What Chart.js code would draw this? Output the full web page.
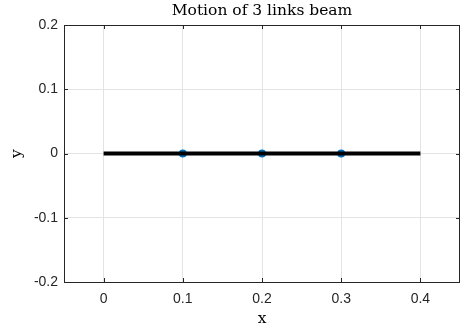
<!DOCTYPE html>
<html>
<head>
<meta charset="utf-8">
<script src="https://cdn.jsdelivr.net/npm/chart.js@4/dist/chart.umd.min.js"></script>
<style>
html,body{margin:0;padding:0;background:#fff;}
#c{display:block;}
</style>
</head>
<body>
<canvas id="c" width="464" height="332"></canvas>
<script>
// ---- data ----
const beamX = [0, 0.1, 0.2, 0.3, 0.4];
const beamY = [0, 0, 0, 0, 0];
const jointX = [0.1, 0.2, 0.3];
const jointY = [0, 0, 0];
const xTicks = [0, 0.1, 0.2, 0.3, 0.4];
const xTickLabels = ['0', '0.1', '0.2', '0.3', '0.4'];
const yTicks = [-0.2, -0.1, 0, 0.1, 0.2];
const yTickLabels = ['-0.2', '-0.1', '0', '0.1', '0.2'];
const xRange = [-0.05, 0.45];
const yRange = [-0.2, 0.2];
const titleText = 'Motion of 3 links beam';
const xLabel = 'x';
const yLabel = 'y';

const axisColor = '#262626';
const gridColor = '#e3e3e3';
const tickFont = {family: '"Liberation Sans", Arial, sans-serif', size: 14};
const serifFont = '"DejaVu Serif", "Liberation Serif", serif';

const boxPlugin = {
  id: 'boxPlugin',
  beforeDatasetsDraw(chart) {
    const {ctx, chartArea: a, scales} = chart;
    ctx.save();
    ctx.strokeStyle = axisColor;
    ctx.lineWidth = 1;
    const tl = 4;
    ctx.beginPath();
    xTicks.forEach(v => {
      const px = Math.round(scales.x.getPixelForValue(v)) + 0.5;
      ctx.moveTo(px, a.bottom); ctx.lineTo(px, a.bottom - tl);
      ctx.moveTo(px, a.top); ctx.lineTo(px, a.top + tl);
    });
    yTicks.forEach(v => {
      const py = Math.round(scales.y.getPixelForValue(v)) + 0.5;
      ctx.moveTo(a.left, py); ctx.lineTo(a.left + tl, py);
      ctx.moveTo(a.right, py); ctx.lineTo(a.right - tl, py);
    });
    ctx.stroke();
    ctx.strokeRect(Math.round(a.left) + 0.5, Math.round(a.top) + 0.5,
                   Math.round(a.right - a.left) - 1, Math.round(a.bottom - a.top));
    ctx.restore();
  }
};

new Chart(document.getElementById('c'), {
  type: 'scatter',
  data: {
    datasets: [
      {
        label: 'beam',
        data: beamX.map((x, i) => ({x, y: beamY[i]})),
        showLine: true,
        borderColor: '#000000',
        borderWidth: 4,
        pointRadius: 0,
        borderCapStyle: 'butt'
      },
      {
        label: 'joints',
        data: jointX.map((x, i) => ({x, y: jointY[i]})),
        showLine: false,
        pointRadius: 4,
        pointBackgroundColor: '#0072BD',
        pointBorderColor: '#0072BD',
        pointBorderWidth: 0
      }
    ]
  },
  options: {
    responsive: false,
    animation: false,
    devicePixelRatio: 1,
    layout: {padding: {left: 0, right: 2, top: 0, bottom: 0}},
    plugins: {
      legend: {display: false},
      tooltip: {enabled: false},
      title: {
        display: true,
        text: titleText,
        fullSize: false,
        color: '#000000',
        font: {family: serifFont, size: 15.5, weight: 'normal', lineHeight: 1.2},
        padding: {top: 2, bottom: 4.4}
      }
    },
    scales: {
      x: {
        type: 'linear',
        min: xRange[0], max: xRange[1],
        afterBuildTicks: s => { s.ticks = xTicks.map(v => ({value: v})); },
        afterFit: s => { s.height = 50; },
        grid: {color: gridColor, drawTicks: false, tickLength: 0},
        border: {display: false},
        ticks: {
          color: axisColor, font: tickFont, padding: 9, maxRotation: 0,
          callback: (v, i) => xTickLabels[i]
        },
        title: {
          display: true, text: xLabel, color: '#000000',
          font: {family: serifFont, size: 15.5, lineHeight: 1.2},
          padding: {top: 0, bottom: 4}
        }
      },
      y: {
        type: 'linear',
        min: yRange[0], max: yRange[1],
        afterBuildTicks: s => { s.ticks = yTicks.map(v => ({value: v})); },
        afterFit: s => { s.width = 64; },
        grid: {color: gridColor, drawTicks: false, tickLength: 0},
        border: {display: false},
        ticks: {
          color: axisColor, font: tickFont, padding: 6,
          callback: (v, i) => yTickLabels[i]
        },
        title: {
          display: true, text: yLabel, color: '#000000',
          font: {family: serifFont, size: 15.5, lineHeight: 1.2},
          padding: {top: 8, bottom: 0}
        }
      }
    }
  },
  plugins: [boxPlugin]
});
</script>
</body>
</html>
